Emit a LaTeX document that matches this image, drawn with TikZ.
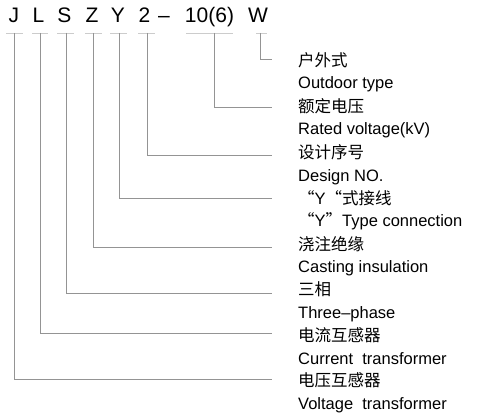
\documentclass[tikz,border=0pt]{standalone}
\usepackage{fontspec}
\setmainfont{Liberation Sans}
\newfontfamily\cjk{Noto Sans CJK SC}
\begin{document}
\begin{tikzpicture}[x=1pt,y=-1pt,
  code/.style={anchor=base,inner sep=0pt,font=\fontsize{21}{21}\selectfont},
  lbl/.style={anchor=base west,inner sep=0pt,font=\fontsize{16.5}{16.5}\selectfont},
  uline/.style={draw=black!20,line width=0.8pt},
  conn/.style={draw=black!42,line width=0.8pt}]
\useasboundingbox (0,0) rectangle (477,420);
% code letters
\node[code] (J) at (14,23) {J};
\node[code] (L) at (38.5,23) {L};
\node[code] (S) at (64.5,23) {S};
\node[code] (Z) at (92,23) {Z};
\node[code] (Y) at (118,23) {Y};
\node[code] (N) at (144.5,23) {2};
\node[code] (D) at (164,23) {–};
\node[code] (V) at (209.5,23) {10(6)};
\node[code] (W) at (258,23) {W};
% underlines
\draw[uline] (6,33) -- (23,33);
\draw[uline] (32,33) -- (48,33);
\draw[uline] (57,33) -- (74,33);
\draw[uline] (85,33) -- (102,33);
\draw[uline] (110,33) -- (127,33);
\draw[uline] (138,33) -- (155,33);
\draw[uline] (186,33) -- (233,33);
\draw[uline] (256,33) -- (267,33);
% labels
\node[lbl] (c1) at (298,66.5) {\cjk 户外式};
\node[lbl] (e1) at (298,88.5) {Outdoor type};
\node[lbl] (c2) at (298,113) {\cjk 额定电压};
\node[lbl] (e2) at (298,134.4) {Rated voltage(kV)};
\node[lbl] (c3) at (298,158) {\cjk 设计序号};
\node[lbl] (e3) at (298,181) {Design NO.};
\node[lbl] (c4) at (298,204) {{\cjk “}Y{\cjk “式接线}};
\node[lbl] (e4) at (298,226.5) {{\cjk “}Y{\cjk ”}Type connection};
\node[lbl] (c5) at (298,250.5) {\cjk 浇注绝缘};
\node[lbl] (e5) at (298,272.5) {Casting insulation};
\node[lbl] (c6) at (298,295.5) {\cjk 三相};
\node[lbl] (e6) at (298,318.5) {Three–phase};
\node[lbl] (c7) at (298,341.5) {\cjk 电流互感器};
\node[lbl] (e7) at (298,364) {Current\ \ transformer};
\node[lbl] (c8) at (298,386.5) {\cjk 电压互感器};
\node[lbl] (e8) at (298,409.5) {Voltage\ \ transformer};
% connector ends
\coordinate (sW) at (260,33); \coordinate (tW) at (272,59);
\coordinate (sV) at (214,33); \coordinate (tV) at (272,107);
\coordinate (sN) at (147,33); \coordinate (tN) at (272,155);
\coordinate (sY) at (119,33); \coordinate (tY) at (272,198);
\coordinate (sZ) at (93,33);  \coordinate (tZ) at (272,247);
\coordinate (sS) at (66,33);  \coordinate (tS) at (272,293);
\coordinate (sL) at (40,33);  \coordinate (tL) at (272,333);
\coordinate (sJ) at (14,33);  \coordinate (tJ) at (272,379);
\foreach \k in {W,V,N,Y,Z,S,L,J}{\draw[conn] (s\k) |- (t\k);}
\end{tikzpicture}
\end{document}
